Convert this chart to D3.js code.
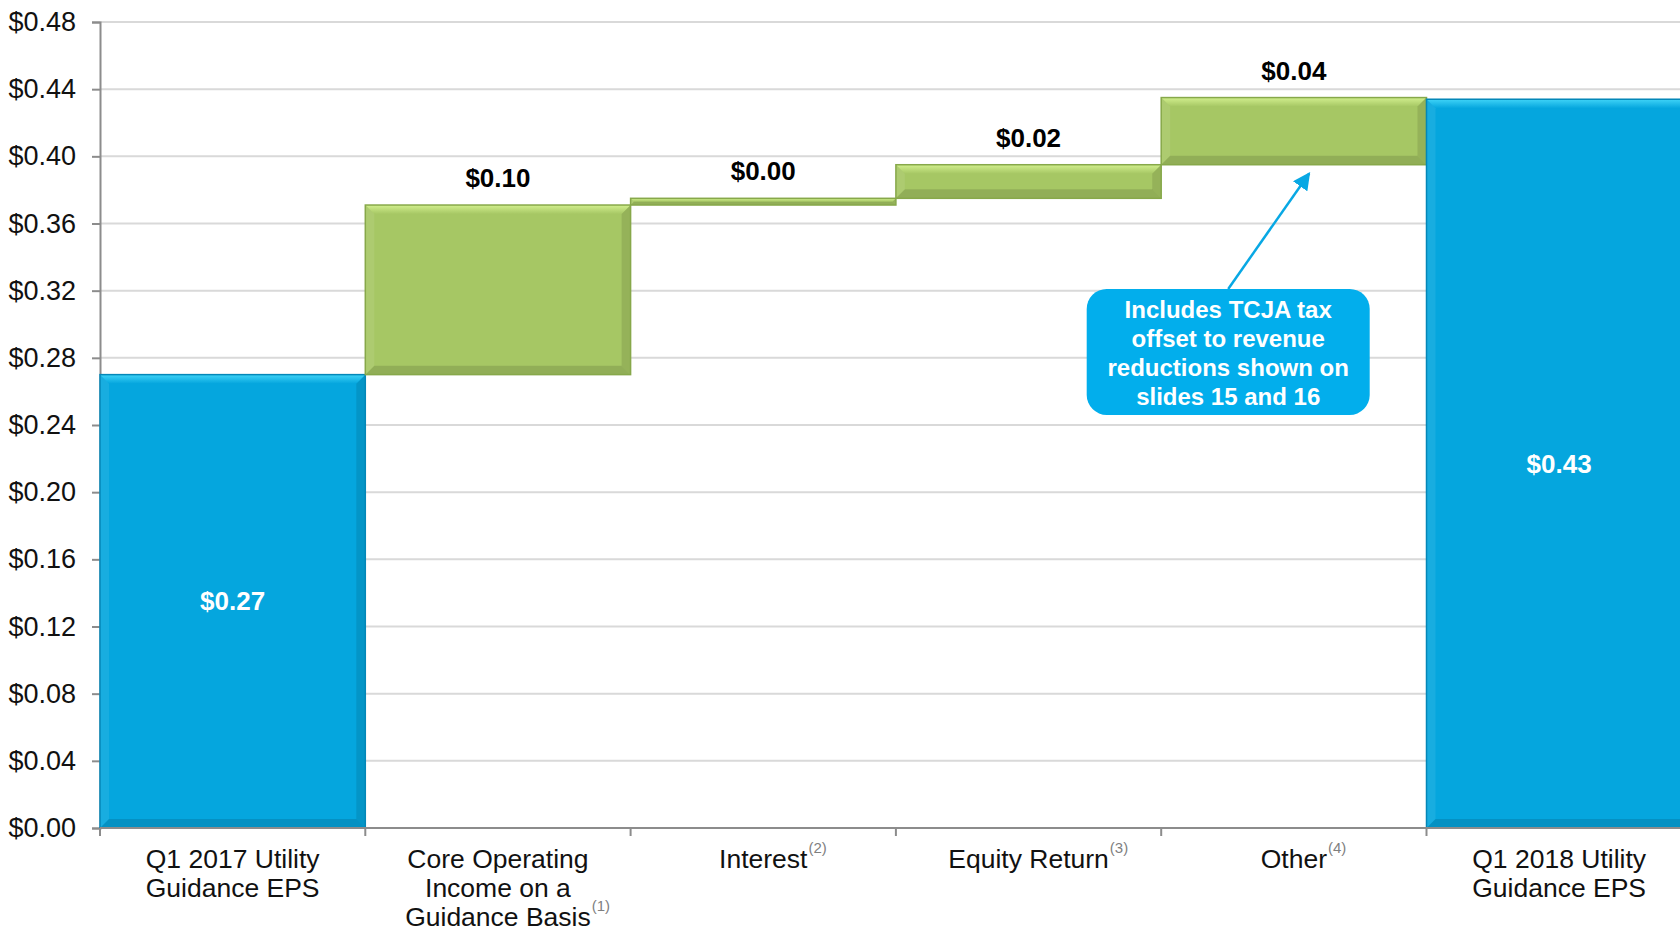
<!DOCTYPE html>
<html>
<head>
<meta charset="utf-8">
<script src="https://cdn.jsdelivr.net/npm/d3@7"></script>
<style>
  body { margin: 0; background: #fff; overflow: hidden; }
  svg { display: block; font-family: "Liberation Sans", Arial, sans-serif; }
</style>
</head>
<body>
<div id="chart"></div>
<script>
// categorias del waterfall
const categories = ["Q1 2017", "Core Operating", "Interest", "Equity Return", "Other", "Q1 2018"];
const labelLines = [
  ["Q1 2017 Utility", "Guidance EPS"],
  ["Core Operating", "Income on a", "Guidance Basis"],
  ["Interest"],
  ["Equity Return"],
  ["Other"],
  ["Q1 2018 Utility", "Guidance EPS"]
];
const footnotes = ["", "(1)", "(2)", "(3)", "(4)", ""];
const barTypes = ["total", "delta", "delta", "delta", "delta", "total"];
const values = [0.27, 0.101, 0.004, 0.02, 0.04, 0.434];
const valueLabels = ["$0.27", "$0.10", "$0.00", "$0.02", "$0.04", "$0.43"];
const yTicks = [0, 0.04, 0.08, 0.12, 0.16, 0.20, 0.24, 0.28, 0.32, 0.36, 0.40, 0.44, 0.48];

// nota con flecha
const noteLines = ["Includes TCJA tax", "offset to revenue", "reductions shown on", "slides 15 and 16"];
const noteRange = [0.246, 0.321];   // alto de la caja en valores del eje
const noteTarget = 0.391;           // punta de la flecha

const ancho = 1680, alto = 931;
const margen = { top: 22, left: 100, bottom: 103 };
const anchoBanda = 265.3;

// calcular base y tope de cada barra
let acumulado = 0;
const barras = categories.map((c, i) => {
  let y0, y1;
  if (barTypes[i] === "total") { y0 = 0; y1 = values[i]; acumulado = values[i]; }
  else { y0 = acumulado; y1 = acumulado + values[i]; acumulado = y1; }
  return { cat: c, tipo: barTypes[i], y0, y1, label: valueLabels[i], lines: labelLines[i], nota: footnotes[i] };
});

const svg = d3.select("#chart").append("svg")
  .attr("width", ancho).attr("height", alto);

const defs = svg.append("defs");

const x = d3.scaleBand()
  .domain(categories)
  .range([margen.left, margen.left + anchoBanda * categories.length])
  .padding(0);

const y = d3.scaleLinear()
  .domain([0, 0.48])
  .range([alto - margen.bottom, margen.top]);

// lineas de rejilla
svg.append("g").selectAll("line")
  .data(yTicks.filter(d => d > 0))
  .enter().append("line")
  .attr("x1", margen.left).attr("x2", ancho)
  .attr("y1", d => y(d)).attr("y2", d => y(d))
  .attr("stroke", "#d9d9d9").attr("stroke-width", 2);

// eje Y
const ejeY = svg.append("g")
  .attr("transform", `translate(${margen.left},0)`)
  .call(d3.axisLeft(y).tickValues(yTicks).tickFormat(d => "$" + d.toFixed(2)).tickSize(8).tickPadding(16));
ejeY.select(".domain").attr("stroke", "#8c8c8c").attr("stroke-width", 2);
ejeY.selectAll(".tick line").attr("stroke", "#8c8c8c").attr("stroke-width", 2);
ejeY.selectAll(".tick text").attr("font-size", 27).attr("fill", "#111").attr("font-family", "Liberation Sans, Arial");

const paletas = {
  total: { fill: "#05a6de", top: "#3fd3f7", stroke: "#0487b8" },
  delta: { fill: "#a6c764", top: "#d2ef8e", stroke: "#87a84a" }
};

// degradados para el bisel superior
Object.keys(paletas).forEach(k => {
  const gr = defs.append("linearGradient").attr("id", "bisel-" + k)
    .attr("x1", 0).attr("y1", 0).attr("x2", 0).attr("y2", 1);
  gr.append("stop").attr("offset", "0%").attr("stop-color", paletas[k].top);
  gr.append("stop").attr("offset", "100%").attr("stop-color", paletas[k].fill);
});

// barras con efecto biselado
const gBarras = svg.append("g");
barras.forEach(d => {
  const x0 = x(d.cat), w = x.bandwidth();
  const yt = y(Math.max(d.y0, d.y1)), yb = y(Math.min(d.y0, d.y1));
  const h = yb - yt;
  const b = Math.min(9, h / 2, w / 2);
  const p = paletas[d.tipo];
  const g = gBarras.append("g");
  g.append("rect").attr("x", x0).attr("y", yt).attr("width", w).attr("height", h)
    .attr("fill", p.fill);
  const caras = [
    { pts: [[x0, yt], [x0 + w, yt], [x0 + w - b, yt + b], [x0 + b, yt + b]], c: `url(#bisel-${d.tipo})`, o: 1 },
    { pts: [[x0, yt], [x0 + b, yt + b], [x0 + b, yb - b], [x0, yb]], c: "#fff", o: 0.08 },
    { pts: [[x0 + w, yt], [x0 + w, yb], [x0 + w - b, yb - b], [x0 + w - b, yt + b]], c: "#000", o: 0.1 },
    { pts: [[x0, yb], [x0 + b, yb - b], [x0 + w - b, yb - b], [x0 + w, yb]], c: "#000", o: 0.12 }
  ];
  caras.forEach(f => {
    g.append("polygon").attr("points", f.pts.map(q => q.join(",")).join(" "))
      .attr("fill", f.c).attr("fill-opacity", f.o);
  });
  g.append("rect").attr("x", x0).attr("y", yt).attr("width", w).attr("height", h)
    .attr("fill", "none").attr("stroke", p.stroke).attr("stroke-width", 1.5);
});

// eje X
const ejeX = svg.append("g");
ejeX.append("line")
  .attr("x1", margen.left).attr("x2", ancho)
  .attr("y1", y(0)).attr("y2", y(0))
  .attr("stroke", "#8c8c8c").attr("stroke-width", 2);
ejeX.selectAll(".tk")
  .data(categories)
  .enter().append("line")
  .attr("class", "tk")
  .attr("x1", d => x(d)).attr("x2", d => x(d))
  .attr("y1", y(0)).attr("y2", y(0) + 8)
  .attr("stroke", "#8c8c8c").attr("stroke-width", 2);

// etiquetas de categoria
barras.forEach(d => {
  const cx = x(d.cat) + x.bandwidth() / 2;
  d.lines.forEach((linea, j) => {
    const by = y(0) + 40 + j * 29;
    const t = svg.append("text")
      .attr("x", cx).attr("y", by)
      .attr("text-anchor", "middle")
      .attr("font-size", 26.5).attr("fill", "#111")
      .text(linea);
    if (j === d.lines.length - 1 && d.nota) {
      const largo = t.node().getComputedTextLength();
      svg.append("text")
        .attr("x", cx + largo / 2 + 1).attr("y", by - 15)
        .attr("font-size", 15).attr("fill", "#7f7f7f")
        .text(d.nota);
    }
  });
});

// etiquetas de valor
svg.append("g").selectAll("text")
  .data(barras)
  .enter().append("text")
  .attr("x", d => x(d.cat) + x.bandwidth() / 2)
  .attr("y", d => d.tipo === "total" ? (y(0) + y(d.y1)) / 2 + 9 : y(d.y1) - 18)
  .attr("text-anchor", "middle")
  .attr("font-size", 26).attr("font-weight", "bold")
  .attr("fill", d => d.tipo === "total" ? "#fff" : "#000")
  .text(d => d.label);

// nota con flecha
const cajaX = x("Other") + 67;
const cajaW = 283;
const cajaTop = y(noteRange[1]), cajaBot = y(noteRange[0]);

defs.append("marker")
  .attr("id", "punta").attr("viewBox", "0 0 10 10")
  .attr("refX", 9).attr("refY", 5)
  .attr("markerWidth", 7).attr("markerHeight", 7)
  .attr("orient", "auto")
  .append("path").attr("d", "M0,0 L10,5 L0,10 z").attr("fill", "#08a8e4");

svg.append("line")
  .attr("x1", cajaX).attr("y1", cajaTop)
  .attr("x2", x("Other") + 148).attr("y2", y(noteTarget) + 2)
  .attr("stroke", "#08a8e4").attr("stroke-width", 2.5)
  .attr("marker-end", "url(#punta)");

svg.append("rect")
  .attr("x", cajaX - cajaW / 2).attr("y", cajaTop)
  .attr("width", cajaW).attr("height", cajaBot - cajaTop)
  .attr("rx", 20).attr("fill", "#02aeec");

noteLines.forEach((l, i) => {
  svg.append("text")
    .attr("x", cajaX).attr("y", cajaTop + 29 + i * 29)
    .attr("text-anchor", "middle")
    .attr("font-size", 24).attr("font-weight", "bold").attr("fill", "#fff")
    .text(l);
});
</script>
</body>
</html>
